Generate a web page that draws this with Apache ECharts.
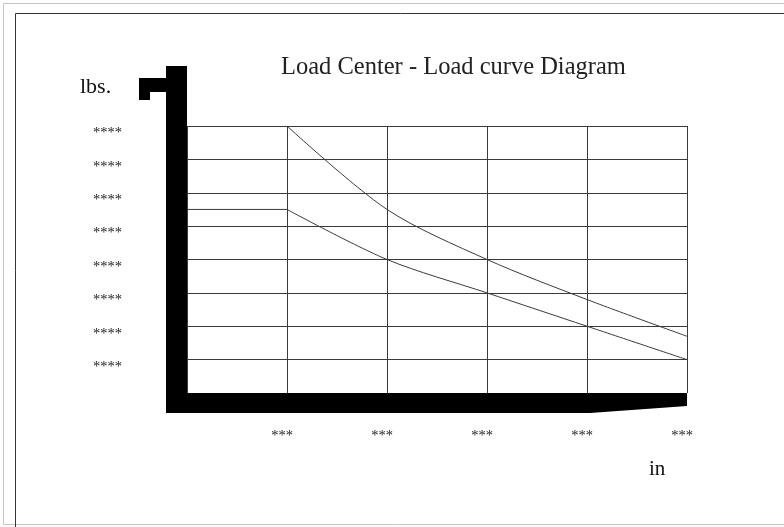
<!DOCTYPE html>
<html>
<head>
<meta charset="utf-8">
<title>Load Center - Load curve Diagram</title>
<script src="https://cdn.jsdelivr.net/npm/echarts@6/dist/echarts.min.js"></script>
<style>
  html, body { margin: 0; padding: 0; background: #fff; }
  #chart { width: 784px; height: 527px; }
</style>
</head>
<body>
<div id="chart"></div>
<script>
// 数据
var xTickLabels = ['', '***', '***', '***', '***', '***']
var yTickLabels = ['', '****', '****', '****', '****', '****', '****', '****', '****']
var upperCurve = [[1, 8], [2, 5.5], [3, 4], [4, 2.8], [5, 1.7]]
var lowerFlat = [[0, 5.5], [1, 5.5]]
var lowerCurve = [[1, 5.5], [2, 4], [3, 3], [4, 2], [5, 1]]

var FONT = 'Liberation Serif'
var LINE = '#3a3a3a'
// grid 位置
var gl = 187, gr = 687, gt = 126, gb = 393

var myChart = echarts.init(document.getElementById('chart'))
var options = {
  backgroundColor: '#fff',
  animation: false,
  title: {
    text: 'Load Center - Load curve Diagram',
    left: 276,
    top: 50,
    textStyle: { fontFamily: FONT, fontSize: 24.5, fontWeight: 'normal', color: '#222' },
  },
  grid: {
    left: gl,
    right: 784 - gr,
    top: gt,
    bottom: 527 - gb,
  },
  xAxis: {
    type: 'value',
    min: 0,
    max: 5,
    interval: 1,
    axisLine: { show: false },
    axisTick: { show: false },
    splitLine: { show: true, lineStyle: { color: LINE, width: 1 } },
    axisLabel: {
      margin: 36,
      fontFamily: FONT,
      fontSize: 14.5,
      color: '#222',
      padding: [0, 10, 0, 0],
      formatter: function (v) { return xTickLabels[v] },
    },
  },
  yAxis: {
    type: 'value',
    min: 0,
    max: 8,
    interval: 1,
    axisLine: { show: false },
    axisTick: { show: false },
    splitLine: { show: true, lineStyle: { color: LINE, width: 1 } },
    axisLabel: {
      margin: 65,
      fontFamily: FONT,
      fontSize: 14.5,
      color: '#222',
      verticalAlign: 'top',
      formatter: function (v) { return yTickLabels[v] },
    },
  },
  series: [
    {
      name: 'upper',
      type: 'line',
      data: upperCurve,
      smooth: 0.3,
      symbol: 'none',
      lineStyle: { color: LINE, width: 1 },
    },
    {
      name: 'lowerFlat',
      type: 'line',
      data: lowerFlat,
      symbol: 'none',
      lineStyle: { color: LINE, width: 1 },
    },
    {
      name: 'lower',
      type: 'line',
      data: lowerCurve,
      smooth: 0.3,
      symbol: 'none',
      lineStyle: { color: LINE, width: 1 },
    },
  ],
  graphic: [
    // 外框
    { type: 'rect', shape: { x: 3.5, y: 3.5, width: 800, height: 521 }, style: { fill: 'none', stroke: '#c4c4c4', lineWidth: 1 } },
    { type: 'rect', shape: { x: 15.5, y: 13.5, width: 800, height: 600 }, style: { fill: 'none', stroke: '#333', lineWidth: 1 } },
    // 粗 L 形坐标轴
    {
      type: 'polygon',
      z: 10,
      shape: {
        points: [[166, 66], [gl, 66], [gl, gb], [gr, gb], [gr, 406], [590, 413], [166, 413]],
      },
      style: { fill: '#000' },
    },
    // lbs. 旁的钩
    {
      type: 'polygon',
      z: 10,
      shape: { points: [[139, 78], [167, 78], [167, 92], [150, 92], [150, 100], [139, 100]] },
      style: { fill: '#000' },
    },
    { type: 'text', left: 80, top: 76, style: { text: 'lbs.', font: '22px "Liberation Serif"', fill: '#111' } },
    { type: 'text', left: 649, top: 459, style: { text: 'in', font: '21px "Liberation Serif"', fill: '#111' } },
  ],
}
myChart.setOption(options)
</script>
</body>
</html>
